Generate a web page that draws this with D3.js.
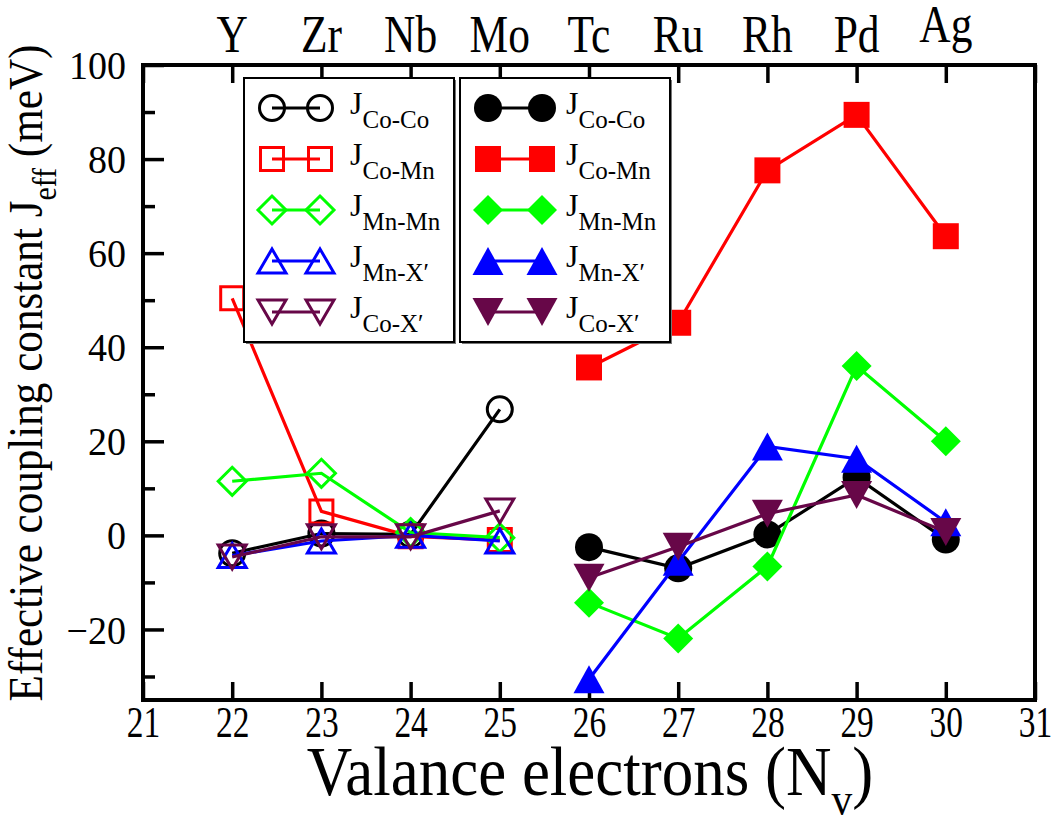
<!DOCTYPE html>
<html>
<head>
<meta charset="utf-8">
<script src="https://cdn.jsdelivr.net/npm/d3@7/dist/d3.min.js"></script>
<style>
body { margin: 0; background: #fff; }
text { font-family: "Liberation Serif", "Times New Roman", serif; fill: #000; }
</style>
</head>
<body>
<svg id="chart" width="1055" height="823"></svg>
<script>
// valence electron counts for the two sets of points
var nvOpen = [22, 23, 24, 25];
var nvFilled = [26, 27, 28, 29, 30];

// element names along the top
var elements = ['Y', 'Zr', 'Nb', 'Mo', 'Tc', 'Ru', 'Rh', 'Pd', 'Ag'];
var elementNv = [22, 23, 24, 25, 26, 27, 28, 29, 30];

// open symbols (Nv 22-25)
var coCoOpen = [-3.8, 0.4, 0.2, 26.8];
var coMnOpen = [50.4, 5.1, -0.2, -1.0];
var mnMnOpen = [11.5, 13.2, 0.6, -0.5];
var mnXOpen  = [-4.3, -1.2, 0.0, -1.2];
var coXOpen  = [-4.6, -0.3, -0.3, 5.2];

// filled symbols (Nv 26-30)
var coCoFilled = [-2.5, -7.0, 0.2, 12.3, -0.9];
var coMnFilled = [35.7, 45.2, 77.6, 89.4, 63.6];
var mnMnFilled = [-14.3, -21.9, -6.6, 36.0, 20.0];
var mnXFilled  = [-30.6, -5.6, 18.9, 16.3, 2.8];
var coXFilled  = [-9.0, -2.4, 4.6, 8.6, 0.7];

var seriesNames = ['Co-Co', 'Co-Mn', 'Mn-Mn', 'Mn-X\u2032', 'Co-X\u2032'];
var seriesColors = ['#000000', '#ff0000', '#00ff00', '#0000ff', '#670748'];
var seriesShapes = ['circle', 'square', 'diamond', 'triUp', 'triDown'];

var openSets = [coCoOpen, coMnOpen, mnMnOpen, mnXOpen, coXOpen];
var filledSets = [coCoFilled, coMnFilled, mnMnFilled, mnXFilled, coXFilled];

var xTicks = d3.range(21, 32);
var yMajor = [-20, 0, 20, 40, 60, 80, 100];
var yMinor = [-30, -10, 10, 30, 50, 70, 90];

var svg = d3.select('#chart');

var x = d3.scaleLinear().domain([21, 31]).range([143, 1035]);
var y = d3.scaleLinear().domain([-35, 100]).range([700, 65]);

// marker shapes, centred on 0,0
function markerPath(shape, filled) {
    var s;
    if (shape == 'circle') {
        s = filled ? 14 : 12.5;
        return 'M' + s + ',0A' + s + ',' + s + ' 0 1,1 ' + (-s) + ',0A' + s + ',' + s + ' 0 1,1 ' + s + ',0Z';
    }
    if (shape == 'square') {
        s = filled ? 13 : 11.5;
        return 'M' + (-s) + ',' + (-s) + 'H' + s + 'V' + s + 'H' + (-s) + 'Z';
    }
    if (shape == 'diamond') {
        s = filled ? 15 : 14;
        return 'M0,' + (-s) + 'L' + s + ',0L0,' + s + 'L' + (-s) + ',0Z';
    }
    s = filled ? 15.5 : 14;
    var h = filled ? 14 : 12;
    if (shape == 'triUp')
        return 'M0,' + (-h) + 'L' + s + ',' + h + 'L' + (-s) + ',' + h + 'Z';
    return 'M0,' + h + 'L' + s + ',' + (-h) + 'L' + (-s) + ',' + (-h) + 'Z';
}

// ---- axes ----
var bottom = svg.append('g')
    .attr('transform', 'translate(0,' + y(-35) + ')')
    .call(d3.axisBottom(x).tickValues(xTicks).tickSize(-18).tickPadding(37));
bottom.selectAll('text')
    .attr('dy', 0)
    .style('font-size', '44px')
    .attr('transform', 'scale(0.76,1)');

var top = svg.append('g')
    .attr('transform', 'translate(0,' + y(100) + ')')
    .call(d3.axisTop(x).tickValues(xTicks).tickSize(-18).tickFormat(''));

var left = svg.append('g')
    .attr('transform', 'translate(' + x(21) + ',0)')
    .call(d3.axisLeft(y).tickValues(yMajor).tickSize(-21).tickPadding(18));
left.selectAll('text')
    .attr('dy', '0.34em')
    .style('font-size', '40px')
    .attr('transform', 'scale(0.95,1)');

svg.append('g')
    .attr('transform', 'translate(' + x(21) + ',0)')
    .call(d3.axisLeft(y).tickValues(yMinor).tickSize(-12).tickFormat(''));

svg.selectAll('.domain').remove();
svg.selectAll('.tick line').attr('stroke', '#000').attr('stroke-width', 3.5);

svg.append('rect')
    .attr('x', x(21))
    .attr('y', y(100))
    .attr('width', x(31) - x(21))
    .attr('height', y(-35) - y(100))
    .attr('fill', 'none')
    .attr('stroke', '#000')
    .attr('stroke-width', 4);

// element labels on top
svg.append('g').selectAll('text')
    .data(elements)
    .enter().append('text')
    .attr('transform', function(d, i) {
        var yy = d == 'Ag' ? 42 : 52;
        return 'translate(' + x(elementNv[i]) + ',' + yy + ') scale(0.82,1)';
    })
    .attr('text-anchor', 'middle')
    .style('font-size', '53px')
    .text(function(d) { return d; });

// axis titles
var xt = svg.append('text')
    .attr('transform', 'translate(590,795) scale(0.9,1)')
    .attr('text-anchor', 'middle')
    .style('font-size', '70px');
xt.append('tspan').text('Valance electrons (N');
xt.append('tspan').attr('dy', 20).style('font-size', '46px').text('v');
xt.append('tspan').attr('dy', -20).text(')');

var yt = svg.append('text')
    .attr('transform', 'translate(42,373) rotate(-90) scale(0.88,1)')
    .attr('text-anchor', 'middle')
    .style('font-size', '49px');
yt.append('tspan').text('Effective coupling constant J');
yt.append('tspan').attr('dy', 14).style('font-size', '34px').text('eff');
yt.append('tspan').attr('dy', -14).text(' (meV)');

// ---- data ----
var plot = svg.append('g');

function drawSet(xs, values, k, filled) {
    var pts = xs.map(function(v, i) { return [v, values[i]]; });
    var line = d3.line()
        .x(function(d) { return x(d[0]); })
        .y(function(d) { return y(d[1]); });
    var g = plot.append('g');
    g.append('path')
        .datum(pts)
        .attr('d', line)
        .attr('fill', 'none')
        .attr('stroke', seriesColors[k])
        .attr('stroke-width', 3.2);
    g.selectAll('path.mk')
        .data(pts)
        .enter().append('path')
        .attr('class', 'mk')
        .attr('transform', function(d) { return 'translate(' + x(d[0]) + ',' + y(d[1]) + ')'; })
        .attr('d', markerPath(seriesShapes[k], filled))
        .attr('fill', filled ? seriesColors[k] : 'none')
        .attr('stroke', filled ? 'none' : seriesColors[k])
        .attr('stroke-width', 3);
}

openSets.forEach(function(vals, k) { drawSet(nvOpen, vals, k, false); });
filledSets.forEach(function(vals, k) { drawSet(nvFilled, vals, k, true); });

// ---- legends ----
function drawLegend(x0, sym1, sym2, filled) {
    var g = svg.append('g');
    g.append('rect')
        .attr('x', x0 + 2).attr('y', 80)
        .attr('width', 210).attr('height', 264)
        .attr('fill', '#777');
    g.append('rect')
        .attr('x', x0).attr('y', 78)
        .attr('width', 210).attr('height', 264)
        .attr('fill', '#fff')
        .attr('stroke', '#000')
        .attr('stroke-width', 2);

    seriesNames.forEach(function(name, k) {
        var yy = 108 + 51 * k;
        g.append('line')
            .attr('x1', x0 + sym1).attr('x2', x0 + sym2)
            .attr('y1', yy).attr('y2', yy)
            .attr('stroke', seriesColors[k])
            .attr('stroke-width', 3.2);
        [sym1, sym2].forEach(function(sx) {
            g.append('path')
                .attr('transform', 'translate(' + (x0 + sx) + ',' + yy + ')')
                .attr('d', markerPath(seriesShapes[k], filled))
                .attr('fill', filled ? seriesColors[k] : 'none')
                .attr('stroke', filled ? 'none' : seriesColors[k])
                .attr('stroke-width', 3);
        });
        var t = g.append('text')
            .attr('x', x0 + 106)
            .attr('y', yy + 6)
            .style('font-size', '32px');
        t.append('tspan').text('J');
        t.append('tspan')
            .attr('dy', 14)
            .style('font-size', '25px')
            .text(name);
    });
}

drawLegend(244, 28, 76, false);
drawLegend(460, 28, 82, true);
</script>
</body>
</html>
